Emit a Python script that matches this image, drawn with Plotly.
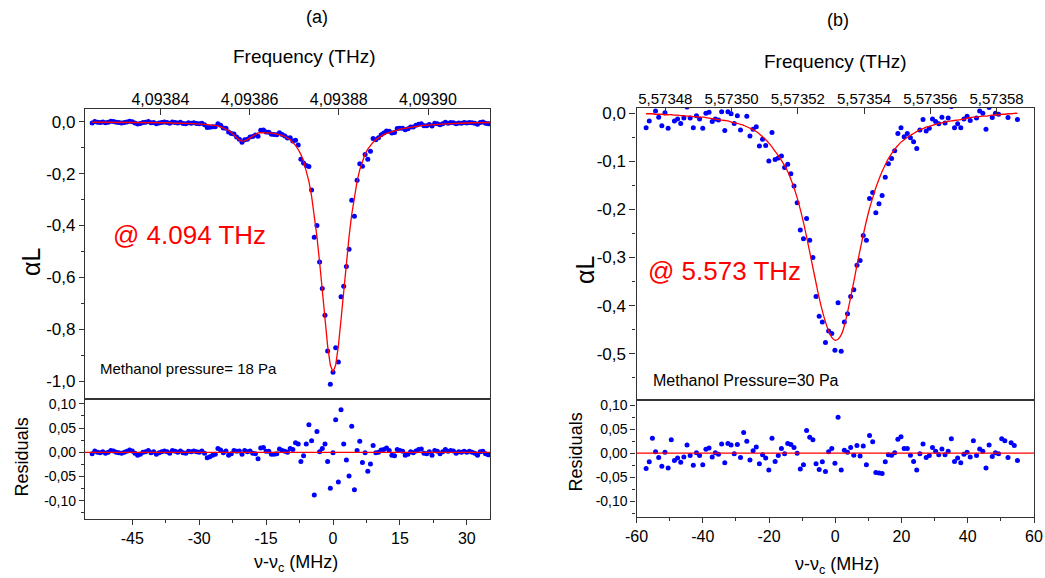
import plotly.graph_objects as go

# ---------------- data : panel (a) 4.094 THz ----------------
a_x = [-54.0, -53.4, -52.8, -52.2, -51.6, -51.0, -50.4, -49.8, -49.2, -48.6,
       -48.0, -47.4, -46.8, -46.2, -45.6, -45.0, -44.4, -43.8, -43.2, -42.6,
       -42.0, -41.4, -40.8, -40.2, -39.6, -39.0, -38.4, -37.8, -37.2, -36.6,
       -36.0, -35.4, -34.8, -34.2, -33.6, -33.0, -32.4, -31.8, -31.2, -30.6,
       -30.0, -29.4, -28.8, -28.2, -27.6, -27.0, -26.4, -25.8, -25.2, -24.6,
       -24.0, -23.4, -22.8, -22.2, -21.6, -21.0, -20.4, -19.8, -19.2, -18.6,
       -18.0, -17.4, -16.8, -16.2, -15.6, -15.0, -14.4, -13.8, -13.2, -12.6,
       -12.0, -11.4, -10.8, -10.2, -9.6, -9.0, -8.4, -7.8, -7.2, -6.6,
       -6.0, -5.4, -4.8, -4.2, -3.6, -3.0, -2.4, -1.8, -1.2, -0.6,
       0.0, 0.6, 1.2, 1.8, 2.4, 3.0, 3.6, 4.2, 4.8, 5.4,
       6.0, 6.6, 7.2, 7.8, 8.4, 9.0, 9.6, 10.2, 10.8, 11.4,
       12.0, 12.6, 13.2, 13.8, 14.4, 15.0, 15.6, 16.2, 16.8, 17.4,
       18.0, 18.6, 19.2, 19.8, 20.4, 21.0, 21.6, 22.2, 22.8, 23.4,
       24.0, 24.6, 25.2, 25.8, 26.4, 27.0, 27.6, 28.2, 28.8, 29.4,
       30.0, 30.6, 31.2, 31.8, 32.4, 33.0, 33.6, 34.2, 34.8, 35.4]

a_data = [-0.005, 0.001, -0.002, -0.003, -0.001, -0.004, -0.002, 0.002, 0.001, -0.002,
          -0.003, -0.005, -0.003, -0.001, 0.002, 0.000, -0.005, -0.009, -0.007, -0.003,
          -0.002, 0.001, -0.004, -0.003, -0.008, -0.005, -0.003, -0.001, -0.003, -0.006,
          -0.001, -0.003, -0.005, -0.002, -0.007, -0.008, -0.004, -0.006, -0.004, -0.007,
          -0.008, -0.006, -0.012, -0.022, -0.021, -0.019, -0.019, -0.008, -0.014, -0.024,
          -0.025, -0.040, -0.045, -0.047, -0.059, -0.068, -0.079, -0.070, -0.068, -0.059,
          -0.057, -0.051, -0.056, -0.033, -0.032, -0.040, -0.041, -0.048, -0.049, -0.050,
          -0.043, -0.049, -0.055, -0.063, -0.062, -0.074, -0.071, -0.090, -0.145, -0.159,
          -0.169, -0.173, -0.263, -0.445, -0.400, -0.541, -0.643, -0.746, -0.884, -1.012,
          -0.966, -0.871, -0.926, -0.675, -0.634, -0.558, -0.492, -0.303, -0.364, -0.226,
          -0.162, -0.172, -0.126, -0.145, -0.114, -0.065, -0.070, -0.062, -0.050, -0.044,
          -0.036, -0.037, -0.044, -0.042, -0.026, -0.025, -0.025, -0.031, -0.027, -0.020,
          -0.020, -0.014, -0.010, -0.008, -0.016, -0.016, -0.011, -0.017, -0.006, -0.008,
          -0.012, -0.008, -0.002, -0.006, -0.003, -0.004, -0.008, -0.005, -0.006, -0.003,
          -0.005, -0.003, -0.004, -0.006, -0.010, -0.003, -0.001, -0.006, -0.008, -0.007]

a_fit = [-0.002, -0.002, -0.002, -0.002, -0.002, -0.002, -0.002, -0.002, -0.002, -0.002,
         -0.002, -0.003, -0.003, -0.003, -0.003, -0.003, -0.003, -0.003, -0.003, -0.003,
         -0.003, -0.003, -0.003, -0.004, -0.004, -0.004, -0.004, -0.004, -0.004, -0.004,
         -0.005, -0.005, -0.005, -0.005, -0.006, -0.006, -0.006, -0.007, -0.007, -0.008,
         -0.008, -0.009, -0.010, -0.011, -0.012, -0.013, -0.015, -0.016, -0.019, -0.023,
         -0.028, -0.034, -0.042, -0.051, -0.061, -0.071, -0.075, -0.074, -0.069, -0.062,
         -0.055, -0.048, -0.043, -0.042, -0.042, -0.042, -0.043, -0.044, -0.045, -0.047,
         -0.050, -0.053, -0.057, -0.063, -0.070, -0.080, -0.091, -0.107, -0.126, -0.152,
         -0.186, -0.230, -0.287, -0.357, -0.443, -0.542, -0.651, -0.763, -0.865, -0.938,
         -0.965, -0.938, -0.865, -0.763, -0.651, -0.542, -0.443, -0.357, -0.287, -0.230,
         -0.185, -0.151, -0.125, -0.106, -0.090, -0.079, -0.069, -0.062, -0.055, -0.050,
         -0.045, -0.041, -0.038, -0.035, -0.032, -0.029, -0.027, -0.025, -0.023, -0.021,
         -0.019, -0.017, -0.016, -0.015, -0.014, -0.013, -0.012, -0.011, -0.010, -0.010,
         -0.009, -0.009, -0.008, -0.008, -0.007, -0.007, -0.006, -0.006, -0.006, -0.005,
         -0.005, -0.005, -0.004, -0.004, -0.004, -0.004, -0.003, -0.003, -0.003, -0.003]

a_resid = [-0.003, 0.003, 0.000, -0.001, 0.001, -0.002, 0.000, 0.004, 0.003, 0.000,
           -0.001, -0.002, 0.000, 0.002, 0.005, 0.003, -0.002, -0.006, -0.004, 0.000,
           0.001, 0.004, -0.001, 0.001, -0.004, -0.001, 0.001, 0.003, 0.001, -0.002,
           0.004, 0.002, 0.000, 0.003, -0.001, -0.002, 0.002, 0.001, 0.003, 0.001,
           0.000, 0.003, -0.002, -0.011, -0.009, -0.006, -0.004, 0.008, 0.005, -0.001,
           0.003, -0.006, -0.003, 0.004, 0.002, 0.003, -0.004, 0.004, 0.001, 0.003,
           -0.002, -0.003, -0.013, 0.009, 0.010, 0.002, 0.002, -0.004, -0.004, -0.003,
           0.007, 0.004, 0.002, 0.000, 0.008, 0.006, 0.020, 0.017, -0.019, -0.007,
           0.017, 0.057, 0.024, -0.088, 0.043, 0.001, 0.008, 0.017, -0.019, -0.074,
           -0.001, 0.067, -0.061, 0.088, 0.017, -0.016, -0.049, 0.054, -0.077, 0.004,
           0.023, -0.021, -0.001, -0.039, -0.024, 0.014, -0.001, 0.000, 0.005, 0.006,
           0.009, 0.004, -0.006, -0.007, 0.006, 0.004, 0.002, -0.006, -0.004, 0.001,
           -0.001, 0.003, 0.006, 0.007, -0.002, -0.003, 0.001, -0.006, 0.004, 0.002,
           -0.003, 0.001, 0.006, 0.002, 0.004, 0.003, -0.002, 0.001, 0.000, 0.002,
           0.000, 0.002, 0.000, -0.002, -0.006, 0.001, 0.002, -0.003, -0.005, -0.004]

# ---------------- data : panel (b) 5.573 THz ----------------
b_x = [-57.1, -56.15, -55.2, -54.25, -53.3, -52.35, -51.4, -50.45, -49.5, -48.55,
       -47.6, -46.65, -45.7, -44.75, -43.8, -42.85, -41.9, -40.95, -40.0, -39.05,
       -38.1, -37.15, -36.2, -35.25, -34.3, -33.35, -32.4, -31.45, -30.5, -29.55,
       -28.6, -27.65, -26.7, -25.75, -24.8, -23.85, -22.9, -21.95, -21.0, -20.05,
       -19.1, -18.15, -17.2, -16.25, -15.3, -14.35, -13.4, -12.45, -11.5, -10.55,
       -9.6, -8.65, -7.7, -6.75, -5.8, -4.85, -3.9, -2.95, -2.0, -1.05,
       -0.1, 0.85, 1.8, 2.75, 3.7, 4.65, 5.6, 6.55, 7.5, 8.45,
       9.4, 10.35, 11.3, 12.25, 13.2, 14.15, 15.1, 16.05, 17.0, 17.95,
       18.9, 19.85, 20.8, 21.75, 22.7, 23.65, 24.6, 25.55, 26.5, 27.45,
       28.4, 29.35, 30.3, 31.25, 32.2, 33.15, 34.1, 35.05, 36.0, 36.95,
       37.9, 38.85, 39.8, 40.75, 41.7, 42.65, 43.6, 44.55, 45.5, 46.45,
       47.4, 48.35, 49.3, 50.25, 51.2, 52.15, 53.1, 54.05, 55.0]

b_data = [-0.030, -0.016, 0.030, 0.005, -0.008, -0.026, 0.001, -0.031, 0.025, -0.016,
          -0.012, -0.021, -0.010, 0.013, -0.010, -0.030, -0.005, -0.012, -0.031, 0.000,
          0.002, -0.017, -0.012, -0.014, 0.003, -0.036, 0.003, -0.001, -0.021, -0.005,
          -0.035, 0.018, -0.006, -0.047, -0.033, -0.028, -0.068, -0.054, -0.067, -0.099,
          -0.040, -0.096, -0.093, -0.089, -0.113, -0.106, -0.126, -0.151, -0.186, -0.243,
          -0.261, -0.219, -0.264, -0.300, -0.381, -0.422, -0.434, -0.477, -0.453, -0.458,
          -0.493, -0.394, -0.495, -0.434, -0.417, -0.381, -0.367, -0.316, -0.306, -0.254,
          -0.264, -0.177, -0.165, -0.207, -0.188, -0.171, -0.133, -0.105, -0.094, -0.078,
          -0.042, -0.030, -0.049, -0.042, -0.051, -0.059, -0.073, -0.035, -0.013, -0.037,
          -0.031, -0.012, -0.017, -0.022, -0.008, -0.020, -0.010, 0.014, -0.030, -0.022,
          -0.030, -0.012, -0.006, -0.015, 0.018, -0.010, 0.005, 0.000, -0.033, 0.012,
          -0.009, 0.000, -0.002, 0.028, 0.024, -0.009, 0.021, 0.016, -0.013]

b_fit = [-0.001, -0.001, -0.001, -0.002, -0.002, -0.002, -0.003, -0.003, -0.003, -0.004,
         -0.004, -0.005, -0.005, -0.006, -0.006, -0.007, -0.007, -0.008, -0.008, -0.009,
         -0.010, -0.011, -0.012, -0.013, -0.014, -0.015, -0.016, -0.018, -0.020, -0.021,
         -0.023, -0.025, -0.028, -0.031, -0.034, -0.038, -0.043, -0.049, -0.055, -0.062,
         -0.070, -0.079, -0.088, -0.098, -0.109, -0.121, -0.137, -0.155, -0.176, -0.200,
         -0.227, -0.257, -0.289, -0.321, -0.353, -0.384, -0.411, -0.434, -0.453, -0.466,
         -0.472, -0.470, -0.461, -0.442, -0.414, -0.383, -0.350, -0.316, -0.284, -0.253,
         -0.224, -0.198, -0.176, -0.155, -0.137, -0.121, -0.107, -0.094, -0.084, -0.075,
         -0.067, -0.060, -0.055, -0.050, -0.046, -0.042, -0.038, -0.034, -0.032, -0.029,
         -0.027, -0.025, -0.023, -0.021, -0.020, -0.018, -0.017, -0.016, -0.015, -0.014,
         -0.013, -0.012, -0.010, -0.009, -0.008, -0.008, -0.007, -0.006, -0.006, -0.005,
         -0.004, -0.003, -0.003, -0.002, -0.002, -0.001, -0.001, 0.000, 0.000]

b_resid = [-0.032, -0.018, 0.031, 0.003, -0.009, -0.027, 0.002, -0.031, 0.028, -0.015,
           -0.010, -0.019, -0.008, 0.017, -0.005, -0.025, 0.001, -0.005, -0.024, 0.008,
           0.011, -0.008, 0.001, -0.002, 0.019, -0.020, 0.020, 0.017, -0.001, 0.018,
           -0.009, 0.043, 0.025, -0.014, 0.005, 0.013, -0.022, -0.003, -0.010, -0.035,
           0.031, -0.017, -0.005, 0.010, -0.001, 0.020, 0.018, 0.012, 0.000, -0.033,
           -0.024, 0.047, 0.033, 0.028, -0.022, -0.034, -0.018, -0.038, 0.003, 0.010,
           -0.021, 0.075, -0.035, 0.006, 0.002, 0.012, -0.004, 0.016, -0.006, 0.015,
           -0.024, 0.037, 0.024, -0.040, -0.041, -0.042, -0.018, -0.003, -0.004, 0.001,
           0.029, 0.034, 0.010, 0.010, -0.004, -0.017, -0.035, -0.001, 0.019, -0.009,
           -0.005, 0.012, 0.004, -0.003, 0.009, -0.003, 0.004, 0.030, -0.017, -0.010,
           -0.020, -0.002, 0.002, -0.008, 0.026, -0.005, 0.009, 0.004, -0.031, 0.017,
           -0.007, 0.001, -0.001, 0.030, 0.026, -0.009, 0.022, 0.016, -0.015]

# ---------------- ticks ----------------
a_y_ticks = [0.0, -0.2, -0.4, -0.6, -0.8, -1.0]
a_y_labels = ["0,0", "-0,2", "-0,4", "-0,6", "-0,8", "-1,0"]
b_y_ticks = [0.0, -0.1, -0.2, -0.3, -0.4, -0.5]
b_y_labels = ["0,0", "-0,1", "-0,2", "-0,3", "-0,4", "-0,5"]
res_ticks = [0.10, 0.05, 0.0, -0.05, -0.10]
res_labels = ["0,10", "0,05", "0,00", "-0,05", "-0,10"]
a_x_ticks = [-45, -30, -15, 0, 15, 30]
a_x_labels = ["-45", "-30", "-15", "0", "15", "30"]
b_x_ticks = [-60, -40, -20, 0, 20, 40, 60]
b_x_labels = ["-60", "-40", "-20", "0", "20", "40", "60"]
a_freq_ticks = [4.09384, 4.09386, 4.09388, 4.09390]
a_freq_labels = ["4,09384", "4,09386", "4,09388", "4,09390"]
a_nu_c = 4.0938787  # THz
b_freq_ticks = [5.57348, 5.57350, 5.57352, 5.57354, 5.57356, 5.57358]
b_freq_labels = ["5,57348", "5,57350", "5,57352", "5,57354", "5,57356", "5,57358"]
b_nu_c = 5.5735313  # THz

a_xrange = [-55.6, 35.2]
b_xrange = [-60, 60]

W, H = 1045, 578
BLUE = "#0000ff"
RED = "#ff0000"
LINE = "#333333"
FONT = "Liberation Sans, Arial, sans-serif"


def px_x(p):
    return p / W


def px_y(p):
    return 1 - p / H


a_dom_x = [px_x(85), px_x(490)]
b_dom_x = [px_x(636.5), px_x(1034)]
a_main_y = [px_y(399), px_y(109)]
a_res_y = [px_y(519), px_y(399)]
b_main_y = [px_y(400.3), px_y(108)]
b_res_y = [px_y(516.7), px_y(400.3)]

fig = go.Figure()

mk = dict(color=BLUE, size=5, line=dict(width=0))

# panel (a)
fig.add_trace(go.Scatter(x=a_x, y=a_data, mode="markers", marker=mk,
                         xaxis="x2", yaxis="y2", hoverinfo="skip"))
fig.add_trace(go.Scatter(x=a_x, y=a_fit, mode="lines", line=dict(color=RED, width=1.3),
                         xaxis="x2", yaxis="y2", hoverinfo="skip"))
fig.add_trace(go.Scatter(x=a_x, y=a_resid, mode="markers", marker=mk,
                         xaxis="x", yaxis="y", hoverinfo="skip"))
fig.add_trace(go.Scatter(x=a_xrange, y=[0, 0], mode="lines", line=dict(width=0),
                         opacity=0, xaxis="x3", yaxis="y2", hoverinfo="skip"))

# panel (b)
fig.add_trace(go.Scatter(x=b_x, y=b_data, mode="markers", marker=mk,
                         xaxis="x5", yaxis="y5", hoverinfo="skip"))
fig.add_trace(go.Scatter(x=b_x, y=b_fit, mode="lines", line=dict(color=RED, width=1.3, shape="spline"),
                         xaxis="x5", yaxis="y5", hoverinfo="skip"))
fig.add_trace(go.Scatter(x=b_x, y=b_resid, mode="markers", marker=mk,
                         xaxis="x4", yaxis="y4", hoverinfo="skip"))
fig.add_trace(go.Scatter(x=b_xrange, y=[0, 0], mode="lines", line=dict(width=0),
                         opacity=0, xaxis="x6", yaxis="y5", hoverinfo="skip"))

base = dict(showline=True, linecolor=LINE, linewidth=1.2, mirror=True, showgrid=False,
            zeroline=False, tickcolor=LINE, tickwidth=1.1, fixedrange=True, automargin=False)


def mid(vals):
    return [(vals[i] + vals[i + 1]) / 2 for i in range(len(vals) - 1)]


def freq_pos(ticks, nu_c):
    return [(f - nu_c) * 1e6 for f in ticks]


layout_axes = dict(
    # (a) residual
    xaxis=dict(base, domain=a_dom_x, anchor="y", range=a_xrange, tickmode="array",
               tickvals=a_x_ticks, ticktext=a_x_labels, ticks="outside", ticklen=5,
               tickfont=dict(size=16),
               minor=dict(tickmode="array", tickvals=mid(a_x_ticks), ticks="outside", ticklen=3,
                          tickcolor=LINE)),
    yaxis=dict(base, domain=a_res_y, anchor="x", range=[-0.1375, 0.110], tickmode="array",
               tickvals=res_ticks, ticktext=res_labels, ticks="outside", ticklen=5,
               tickfont=dict(size=14),
               minor=dict(tickmode="array", tickvals=[0.075, 0.025, -0.025, -0.075, -0.125],
                          ticks="outside", ticklen=3, tickcolor=LINE)),
    # (a) main
    xaxis2=dict(base, domain=a_dom_x, anchor="y2", range=a_xrange, showticklabels=False, ticks=""),
    yaxis2=dict(base, domain=a_main_y, anchor="x2", range=[-1.069, 0.049], tickmode="array",
                tickvals=a_y_ticks, ticktext=a_y_labels, ticks="outside", ticklen=5,
                tickfont=dict(size=17),
                minor=dict(tickmode="array", tickvals=[-0.1, -0.3, -0.5, -0.7, -0.9],
                           ticks="outside", ticklen=3, tickcolor=LINE)),
    xaxis3=dict(base, overlaying="x2", side="top", anchor="y2", range=a_xrange, showline=False,
                tickmode="array", tickvals=freq_pos(a_freq_ticks, a_nu_c), ticktext=a_freq_labels,
                ticks="inside", ticklen=6, tickfont=dict(size=16)),
    # (b) residual
    xaxis4=dict(base, domain=b_dom_x, anchor="y4", range=b_xrange, tickmode="array",
                tickvals=b_x_ticks, ticktext=b_x_labels, ticks="outside", ticklen=5,
                tickfont=dict(size=16),
                minor=dict(tickmode="array", tickvals=mid(b_x_ticks), ticks="outside", ticklen=3,
                           tickcolor=LINE)),
    yaxis4=dict(base, domain=b_res_y, anchor="x4", range=[-0.132, 0.110], tickmode="array",
                tickvals=res_ticks, ticktext=res_labels, ticks="outside", ticklen=5,
                tickfont=dict(size=14),
                minor=dict(tickmode="array", tickvals=[0.075, 0.025, -0.025, -0.075, -0.125],
                           ticks="outside", ticklen=3, tickcolor=LINE)),
    # (b) main
    xaxis5=dict(base, domain=b_dom_x, anchor="y5", range=b_xrange, showticklabels=False, ticks=""),
    yaxis5=dict(base, domain=b_main_y, anchor="x5", range=[-0.597, 0.011], tickmode="array",
                tickvals=b_y_ticks, ticktext=b_y_labels, ticks="outside", ticklen=6,
                tickfont=dict(size=17),
                minor=dict(tickmode="array", tickvals=[-0.05, -0.15, -0.25, -0.35, -0.45, -0.55],
                           ticks="outside", ticklen=3, tickcolor=LINE)),
    xaxis6=dict(base, overlaying="x5", side="top", anchor="y5", range=b_xrange, showline=False,
                tickmode="array", tickvals=freq_pos(b_freq_ticks, b_nu_c), ticktext=b_freq_labels,
                ticks="inside", ticklen=6, tickfont=dict(size=15)),
)


def ann(text, x, y, size, color="black", angle=0, xanchor="center"):
    return dict(text=text, x=px_x(x), y=px_y(y), xref="paper", yref="paper", showarrow=False,
                font=dict(size=size, color=color, family=FONT), textangle=angle,
                xanchor=xanchor, yanchor="middle")


annotations = [
    ann("(a)", 316.7, 17.5, 18),
    ann("(b)", 838.3, 20, 18),
    ann("Frequency (THz)", 304, 56, 19),
    ann("Frequency (THz)", 835, 61.7, 19),
    ann("αL", 31, 262, 25, angle=-90),
    ann("αL", 585, 270, 25, angle=-90),
    ann("Residuals", 21.7, 456.7, 18, angle=-90),
    ann("Residuals", 575.7, 451.7, 18, angle=-90),
    ann("ν-ν<sub>c</sub> (MHz)", 296, 563, 18),
    ann("ν-ν<sub>c</sub> (MHz)", 836.7, 565, 18),
    ann("@ 4.094 THz", 111, 235, 26, color=RED, xanchor="left"),
    ann("@ 5.573 THz", 646, 271, 26, color=RED, xanchor="left"),
    ann("Methanol pressure= 18 Pa", 98, 368, 15, xanchor="left"),
    ann("Methanol Pressure=30 Pa", 651, 380, 16, xanchor="left"),
]

shapes = [
    dict(type="line", xref="x domain", yref="y", x0=0, x1=1, y0=0, y1=0,
         line=dict(color=RED, width=1.2)),
    dict(type="line", xref="x4 domain", yref="y4", x0=0, x1=1, y0=0, y1=0,
         line=dict(color=RED, width=1.2)),
]

fig.update_layout(
    width=W, height=H, margin=dict(l=0, r=0, t=0, b=0, pad=0),
    paper_bgcolor="white", plot_bgcolor="white", showlegend=False,
    font=dict(family=FONT, color="black", size=15),
    annotations=annotations, shapes=shapes,
    **layout_axes,
)

fig.write_html("out.html", config={"displayModeBar": False})
